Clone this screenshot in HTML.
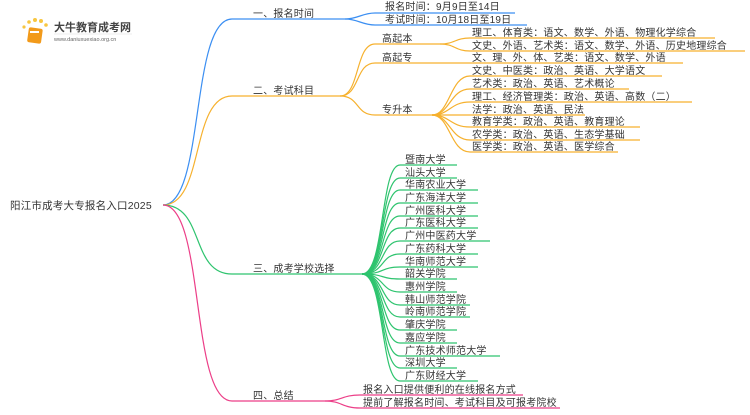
<!DOCTYPE html>
<html><head><meta charset="utf-8"><style>
html,body{margin:0;padding:0;background:#fff}
svg text{font-family:"Liberation Sans","Noto Sans CJK SC",sans-serif;font-size:10px;letter-spacing:0.2px;fill:#333}
</style></head><body>
<svg width="750" height="410" viewBox="0 0 750 410" xmlns="http://www.w3.org/2000/svg">
<g fill="none" stroke-width="1.2">
<g stroke="#3c8ff2">
<path d="M163 205 C205 205,190 19,232 19 L345 19"/>
<path d="M345 19 C358 19,362 13,375 13 L515 13"/>
<path d="M345 19 C358 19,362 25,375 25 L527 25"/>
</g>
<g stroke="#f6b12e">
<path d="M163 205 C205 205,190 96,232 96 L340 96"/>
<path d="M340 96 C360 96,355 44,375 44 L440 44"/>
<path d="M340 96 C360 96,355 63,375 63 L440 63"/>
<path d="M340 96 C360 96,355 115,375 115 L432 115"/>
<path d="M440 44 C455 44,455 38,470 38 L715 38"/>
<path d="M440 44 C455 44,455 51,470 51 L745 51"/>
<path d="M440 63 L683 63"/>
<path d="M432 115 C450 115,450 76,470 76 L662 76"/>
<path d="M432 115 C450 115,450 89,470 89 L629 89"/>
<path d="M432 115 C450 115,450 102,470 102 L692 102"/>
<path d="M432 115 L585 115"/>
<path d="M432 115 C450 115,450 127,470 127 L640 127"/>
<path d="M432 115 C450 115,450 140,470 140 L640 140"/>
<path d="M432 115 C450 115,450 152,470 152 L618 152"/>
</g>
<g stroke="#2fc46f">
<path d="M163 205 C205 205,190 274,232 274 L362 274"/>
<path d="M362 274 C385 274,380 165,400 165 L457 165"/>
<path d="M362 274 C385 274,380 178,400 178 L457 178"/>
<path d="M362 274 C385 274,380 190,400 190 L478 190"/>
<path d="M362 274 C385 274,380 203,400 203 L478 203"/>
<path d="M362 274 C385 274,380 216,400 216 L478 216"/>
<path d="M362 274 C385 274,380 228,400 228 L478 228"/>
<path d="M362 274 C385 274,380 241,400 241 L490 241"/>
<path d="M362 274 C385 274,380 254,400 254 L478 254"/>
<path d="M362 274 C385 274,380 267,400 267 L478 267"/>
<path d="M362 274 C385 274,380 279,400 279 L457 279"/>
<path d="M362 274 C385 274,380 292,400 292 L457 292"/>
<path d="M362 274 C385 274,380 305,400 305 L470 305"/>
<path d="M362 274 C385 274,380 317,400 317 L470 317"/>
<path d="M362 274 C385 274,380 330,400 330 L457 330"/>
<path d="M362 274 C385 274,380 343,400 343 L457 343"/>
<path d="M362 274 C385 274,380 356,400 356 L500 356"/>
<path d="M362 274 C385 274,380 368,400 368 L457 368"/>
<path d="M362 274 C385 274,380 381,400 381 L478 381"/>
</g>
<g stroke="#ec3f88">
<path d="M163 205 C205 205,190 401,232 401 L325 401"/>
<path d="M325 401 C342 401,342 395,360 395 L523 395"/>
<path d="M325 401 C342 401,342 408,360 408 L560 408"/>
</g>
</g>
<g>
<circle cx="24" cy="27" r="1.6" fill="#f8c640"/><circle cx="29" cy="22" r="1.8" fill="#f8c640"/><circle cx="35" cy="20" r="2" fill="#f8c640"/><circle cx="41" cy="21" r="2" fill="#f8c640"/><circle cx="46" cy="25" r="1.8" fill="#f8c640"/>
<rect x="28" y="28" width="14" height="15" rx="2" fill="#f29a1a" transform="rotate(8 35 35)"/>
<rect x="30" y="31" width="9" height="2" fill="#fff"/>
<text x="54" y="31" style="font-size:11px;font-weight:bold;fill:#444;letter-spacing:0">大牛教育成考网</text>
<text x="54" y="41" style="font-size:5.5px;fill:#666;letter-spacing:0">www.daniuxuexiao.org.cn</text>
<line x1="54" y1="34" x2="132" y2="34" stroke="#ddd" stroke-width="0.6"/>
</g>
<text x="10" y="209" style="font-size:10.5px">阳江市成考大专报名入口2025</text>
<text x="253" y="17">一、报名时间</text>
<text x="253" y="94">二、考试科目</text>
<text x="253" y="272">三、成考学校选择</text>
<text x="253" y="399">四、总结</text>
<text x="385" y="10">报名时间：9月9日至14日</text>
<text x="385" y="23">考试时间：10月18日至19日</text>
<text x="382" y="42">高起本</text>
<text x="382" y="61">高起专</text>
<text x="382" y="113">专升本</text>
<text x="472" y="36">理工、体育类：语文、数学、外语、物理化学综合</text>
<text x="472" y="49">文史、外语、艺术类：语文、数学、外语、历史地理综合</text>
<text x="472" y="61">文、理、外、体、艺类：语文、数学、外语</text>
<text x="472" y="74">文史、中医类：政治、英语、大学语文</text>
<text x="472" y="87">艺术类：政治、英语、艺术概论</text>
<text x="472" y="100">理工、经济管理类：政治、英语、高数（二）</text>
<text x="472" y="113">法学：政治、英语、民法</text>
<text x="472" y="125">教育学类：政治、英语、教育理论</text>
<text x="472" y="138">农学类：政治、英语、生态学基础</text>
<text x="472" y="150">医学类：政治、英语、医学综合</text>
<g>
<text x="405" y="163">暨南大学</text>
<text x="405" y="176">汕头大学</text>
<text x="405" y="188">华南农业大学</text>
<text x="405" y="201">广东海洋大学</text>
<text x="405" y="214">广州医科大学</text>
<text x="405" y="226">广东医科大学</text>
<text x="405" y="239">广州中医药大学</text>
<text x="405" y="252">广东药科大学</text>
<text x="405" y="265">华南师范大学</text>
<text x="405" y="277">韶关学院</text>
<text x="405" y="290">惠州学院</text>
<text x="405" y="303">韩山师范学院</text>
<text x="405" y="315">岭南师范学院</text>
<text x="405" y="328">肇庆学院</text>
<text x="405" y="341">嘉应学院</text>
<text x="405" y="354">广东技术师范大学</text>
<text x="405" y="366">深圳大学</text>
<text x="405" y="379">广东财经大学</text>
</g>
<text x="363" y="393">报名入口提供便利的在线报名方式</text>
<text x="363" y="406">提前了解报名时间、考试科目及可报考院校</text>
</svg>
</body></html>
